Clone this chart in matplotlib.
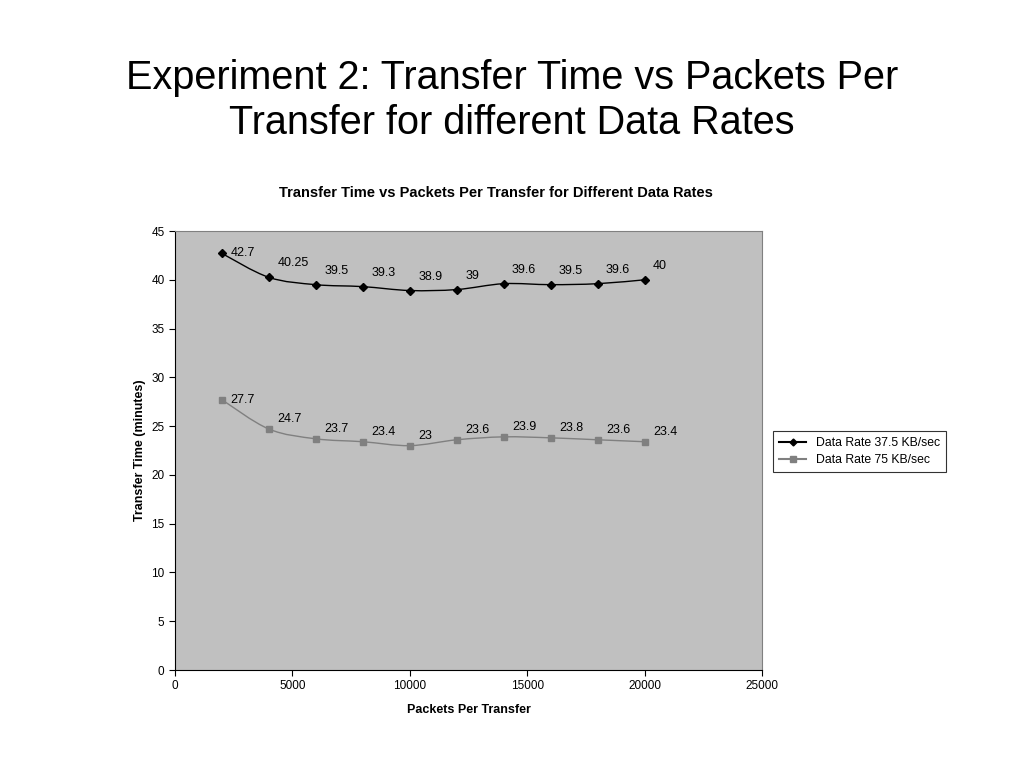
import matplotlib
matplotlib.use("Agg")
import matplotlib.pyplot as plt
from matplotlib.path import Path
from matplotlib import patches
from matplotlib.lines import Line2D
import numpy as np

plt.rcParams['font.family'] = ['Liberation Sans', 'DejaVu Sans']

packets = [2000, 4000, 6000, 8000, 10000, 12000, 14000, 16000, 18000, 20000]
rate_slow = [42.7, 40.25, 39.5, 39.3, 38.9, 39, 39.6, 39.5, 39.6, 40]
rate_fast = [27.7, 24.7, 23.7, 23.4, 23, 23.6, 23.9, 23.8, 23.6, 23.4]
labels_slow = ["42.7", "40.25", "39.5", "39.3", "38.9", "39", "39.6", "39.5", "39.6", "40"]
labels_fast = ["27.7", "24.7", "23.7", "23.4", "23", "23.6", "23.9", "23.8", "23.6", "23.4"]
series_names = ["Data Rate 37.5 KB/sec", "Data Rate 75 KB/sec"]


def smoothPath(xs, ys):
    # Catmull-Rom style bezier through the points (like Excel smoothed lines)
    pts = np.column_stack([xs, ys]).astype(float)
    verts = [pts[0]]
    codes = [Path.MOVETO]
    n = len(pts)
    for i in range(n - 1):
        p0 = pts[i - 1] if i > 0 else pts[i]
        p1 = pts[i]
        p2 = pts[i + 1]
        p3 = pts[i + 2] if i + 2 < n else pts[i + 1]
        c1 = p1 + (p2 - p0) / 6.0
        c2 = p2 - (p3 - p1) / 6.0
        verts += [c1, c2, p2]
        codes += [Path.CURVE4] * 3
    return Path(verts, codes)


fig = plt.figure(figsize=(10.24, 7.68), dpi=100)
fig.text(0.5, 0.869, "Experiment 2: Transfer Time vs Packets Per\nTransfer for different Data Rates",
         ha='center', va='center', fontsize=28.5, linespacing=1.22)

ax = fig.add_axes([0.1709, 0.1276, 0.5732, 0.5716])
ax.set_facecolor('#C0C0C0')

for ys, col, mk, ms, lbls, dy in [(rate_slow, 'black', 'D', 4, labels_slow, 10),
                                  (rate_fast, '#808080', 's', 5, labels_fast, 7)]:
    ax.add_patch(patches.PathPatch(smoothPath(packets, ys), facecolor='none', edgecolor=col, lw=1.0))
    ax.plot(packets, ys, linestyle='none', marker=mk, markersize=ms, color=col)
    for i, (x, y, t) in enumerate(zip(packets, ys, lbls)):
        off = (6, 0) if i == 0 else (6, dy)
        ax.annotate(t, (x, y), xytext=off, textcoords='offset points',
                    ha='left', va='center', fontsize=9)

ax.set_xlim(0, 25000)
ax.set_ylim(0, 45)
ax.set_xticks(np.arange(0, 25001, 5000))
ax.set_yticks(np.arange(0, 46, 5))
ax.tick_params(labelsize=8.5, length=4, direction='out')
for s in ['top', 'right']:
    ax.spines[s].set_color('#808080')
ax.set_xlabel("Packets Per Transfer", fontsize=9, fontweight='bold', labelpad=8)
ax.set_ylabel("Transfer Time (minutes)", fontsize=9, fontweight='bold', labelpad=4)
fig.text(0.484, 0.749, "Transfer Time vs Packets Per Transfer for Different Data Rates",
         ha='center', va='center', fontsize=10.5, fontweight='bold')

handles = [Line2D([], [], color='black', marker='D', markersize=3.5),
           Line2D([], [], color='#808080', marker='s', markersize=4)]
leg = fig.legend(handles, series_names, loc='upper left', bbox_to_anchor=(0.749, 0.447),
                 fontsize=8.8, frameon=True, fancybox=False, edgecolor='black',
                 handlelength=2.2, borderpad=0.5, labelspacing=0.4)
leg.get_frame().set_linewidth(0.8)

fig.savefig("out.png", dpi=100)
